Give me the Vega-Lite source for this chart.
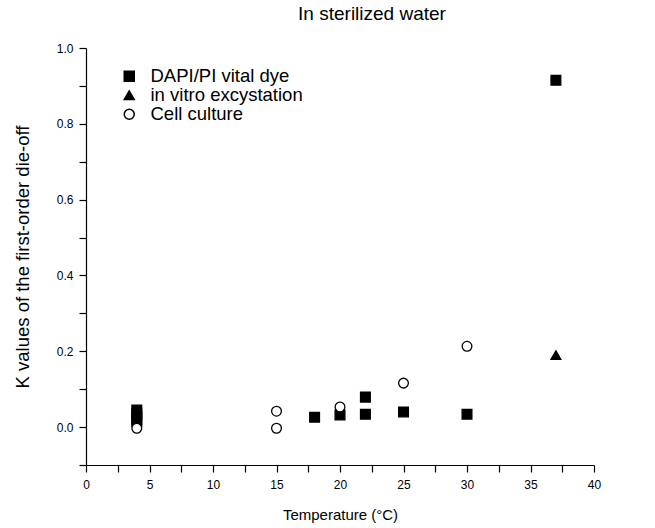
{
  "$schema": "https://vega.github.io/schema/vega-lite/v6.json",
  "autosize": {"type": "none"},
  "width": 508,
  "height": 417,
  "padding": {"left": 86, "top": 48, "right": 61, "bottom": 63},
  "background": "white",
  "title": {"text": "In sterilized water", "font": "Liberation Sans", "fontSize": 19, "fontWeight": "normal", "color": "black", "anchor": "middle", "dx": 32, "offset": 18},
  "config": {
    "view": {"stroke": null},
    "axis": {"domainColor": "black", "tickColor": "black", "labelColor": "black", "titleColor": "black", "grid": false, "labelFont": "Liberation Sans", "titleFont": "Liberation Sans", "labelFontSize": 12, "titleFontSize": 15, "titleFontWeight": "normal", "tickSize": 7, "domainWidth": 1.2, "tickWidth": 1.2}
  },
  "data": {"values": [
    {"t": 4, "k": 0.045, "series": "DAPI/PI vital dye"},
    {"t": 4, "k": 0.035, "series": "DAPI/PI vital dye"},
    {"t": 4, "k": 0.025, "series": "DAPI/PI vital dye"},
    {"t": 4, "k": 0.015, "series": "DAPI/PI vital dye"},
    {"t": 18, "k": 0.026, "series": "DAPI/PI vital dye"},
    {"t": 20, "k": 0.032, "series": "DAPI/PI vital dye"},
    {"t": 22, "k": 0.034, "series": "DAPI/PI vital dye"},
    {"t": 22, "k": 0.079, "series": "DAPI/PI vital dye"},
    {"t": 25, "k": 0.04, "series": "DAPI/PI vital dye"},
    {"t": 30, "k": 0.034, "series": "DAPI/PI vital dye"},
    {"t": 37, "k": 0.915, "series": "DAPI/PI vital dye"},
    {"t": 4, "k": 0.02, "series": "in vitro excystation"},
    {"t": 37, "k": 0.19, "series": "in vitro excystation"},
    {"t": 4, "k": -0.003, "series": "Cell culture"},
    {"t": 15, "k": -0.003, "series": "Cell culture"},
    {"t": 15, "k": 0.042, "series": "Cell culture"},
    {"t": 20, "k": 0.053, "series": "Cell culture"},
    {"t": 25, "k": 0.116, "series": "Cell culture"},
    {"t": 30, "k": 0.213, "series": "Cell culture"}
  ]},
  "mark": {"type": "point", "filled": true, "stroke": "black", "strokeWidth": 1.3, "opacity": 1, "fillOpacity": 1},
  "encoding": {
    "x": {"field": "t", "type": "quantitative", "scale": {"domain": [0, 40], "nice": false, "zero": false},
      "axis": {"title": "Temperature (°C)", "values": [0,2.5,5,7.5,10,12.5,15,17.5,20,22.5,25,27.5,30,32.5,35,37.5,40], "labelExpr": "datum.value % 5 == 0 ? datum.label : ''", "labelPadding": 7, "titlePadding": 17, "labelFlush": false}},
    "y": {"field": "k", "type": "quantitative", "scale": {"domain": [-0.1, 1.0], "nice": false, "zero": false},
      "axis": {"title": "K values of the first-order die-off", "titleFontSize": 18.5, "values": [-0.1,0,0.1,0.2,0.3,0.4,0.5,0.6,0.7,0.8,0.9,1.0], "labelExpr": "(abs(round(datum.value*10)) % 2 == 0 && datum.value > -0.05) ? format(datum.value, '.1f') : ''", "labelPadding": 6, "titlePadding": 24, "labelFlush": false}},
    "shape": {"field": "series", "type": "nominal", "sort": ["DAPI/PI vital dye", "in vitro excystation", "Cell culture"],
      "scale": {"domain": ["DAPI/PI vital dye", "in vitro excystation", "Cell culture"], "range": ["square", "triangle-up", "circle"]},
      "legend": {"title": null, "orient": "none", "legendX": 34, "legendY": 19, "labelFont": "Liberation Sans", "labelFontSize": 18.5, "labelColor": "black", "symbolSize": 100, "rowPadding": -4, "labelOffset": 12,
        "encode": {"symbols": {"update": {"stroke": {"value": "black"}, "strokeWidth": {"value": 1.3}, "fill": {"signal": "datum.value === 'Cell culture' ? 'white' : 'black'"}, "opacity": {"value": 1}}}}}},
    "fill": {"field": "series", "type": "nominal",
      "scale": {"domain": ["DAPI/PI vital dye", "in vitro excystation", "Cell culture"], "range": ["black", "black", "white"]},
      "legend": null},
    "size": {"value": 95},
    "order": {"field": "series", "sort": "descending"}
  }
}
